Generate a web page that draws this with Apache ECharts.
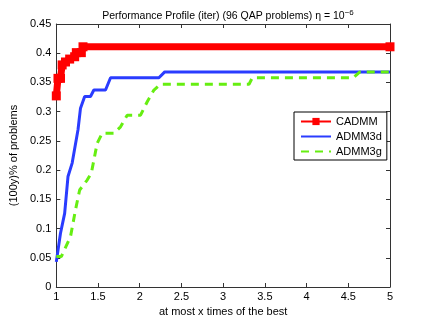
<!DOCTYPE html>
<html>
<head>
<meta charset="utf-8">
<script src="https://cdn.jsdelivr.net/npm/echarts@6/dist/echarts.min.js"></script>
<style>
html,body{margin:0;padding:0;background:#fff;}
#main{width:429px;height:323px;}
</style>
</head>
<body>
<div id="main"></div>
<script>
// 各算法的 performance profile 折线点 [x, y]
const seriesNames = ['CADMM', 'ADMM3d', 'ADMM3g'];
const cadmm = [[1,0.327],[1.02,0.357],[1.05,0.357],[1.07,0.38],[1.11,0.385],[1.16,0.39],[1.22,0.394],[1.24,0.401],[1.30,0.401],[1.32,0.411],[5,0.411]];
const admm3d = [[1,0.043],[1.05,0.092],[1.1,0.126],[1.14,0.189],[1.19,0.212],[1.26,0.269],[1.29,0.306],[1.34,0.326],[1.41,0.326],[1.45,0.337],[1.59,0.337],[1.65,0.358],[2.23,0.358],[2.3,0.368],[5,0.368]];
const admm3g = [[1,0.052],[1.06,0.052],[1.17,0.086],[1.23,0.132],[1.28,0.166],[1.37,0.183],[1.42,0.195],[1.49,0.246],[1.55,0.263],[1.69,0.263],[1.77,0.274],[1.85,0.294],[2.01,0.294],[2.09,0.317],[2.17,0.337],[2.25,0.347],[3.31,0.347],[3.35,0.358],[4.56,0.358],[4.64,0.368],[5,0.368]];
const xRange = [1, 5, 0.5];
const yRange = [0, 0.45, 0.05];

var myChart = echarts.init(document.getElementById('main'));
var font = 'Liberation Sans, Arial, sans-serif';
var axisCol = '#333';
function xAx(show){
    return {
        type:'value', min:xRange[0], max:xRange[1], interval:xRange[2],
        position: show ? 'bottom' : 'top',
        axisLine:{show:true, onZero:false, lineStyle:{color:axisCol, width:1}},
        axisTick:{show:true, inside:true, length:4, lineStyle:{color:axisCol}},
        axisLabel:{show:show, color:'#000', fontSize:11, fontFamily:font, margin:4},
        splitLine:{show:false},
        name: show ? 'at most x times of the best' : '',
        nameLocation:'middle', nameGap:16,
        nameTextStyle:{color:'#000', fontSize:11, fontFamily:font}
    };
}
function yAx(show){
    return {
        type:'value', min:yRange[0], max:yRange[1], interval:yRange[2],
        position: show ? 'left' : 'right',
        axisLine:{show:true, onZero:false, lineStyle:{color:axisCol, width:1}},
        axisTick:{show:true, inside:true, length:4, lineStyle:{color:axisCol}},
        axisLabel:{show:show, color:'#000', fontSize:11, fontFamily:font, margin:5},
        splitLine:{show:false},
        name: show ? '(100y)% of problems' : '',
        nameLocation:'middle', nameGap:30,
        nameTextStyle:{color:'#000', fontSize:11, fontFamily:font}
    };
}
var option = {
    animation:false,
    backgroundColor:'#fff',
    title:{
        text:'Performance Profile (iter) (96 QAP problems) η = 10{sup|−6}',
        left:223, top:4, textAlign:'center',
        textStyle:{color:'#000', fontSize:10.5, fontWeight:'normal', fontFamily:font,
            rich:{sup:{fontSize:8, verticalAlign:'top', padding:[0,0,6,0], fontFamily:font, color:'#000'}}}
    },
    grid:{left:56, right:39, top:24, bottom:36},
    legend:{
        orient:'vertical', left:294, top:112,
        backgroundColor:'#fff', borderColor:'#000', borderWidth:1, borderRadius:0,
        padding:[4,5,3,6], itemGap:4, itemWidth:30, itemHeight:9,
        textStyle:{color:'#000', fontSize:11, fontFamily:font},
        data:[
            {name:seriesNames[0]},
            {name:seriesNames[1], itemStyle:{opacity:0}},
            {name:seriesNames[2], itemStyle:{opacity:0}}
        ]
    },
    xAxis:[xAx(true), xAx(false)],
    yAxis:[yAx(true), yAx(false)],
    series:[
        {name:seriesNames[0], type:'line', data:cadmm, z:5,
         symbol:'rect', symbolSize:9, showSymbol:true,
         lineStyle:{color:'#ff0000', width:7}, itemStyle:{color:'#ff0000'}},
        {name:seriesNames[1], type:'line', data:admm3d, z:4, symbol:'none',
         lineStyle:{color:'#2a3cff', width:3}, itemStyle:{color:'#2a3cff'}},
        {name:seriesNames[2], type:'line', data:admm3g, z:6, symbol:'none',
         lineStyle:{color:'#66ee11', width:3, type:[8,6]}, itemStyle:{color:'#66ee11'}}
    ]
};
myChart.setOption(option);
</script>
</body>
</html>
